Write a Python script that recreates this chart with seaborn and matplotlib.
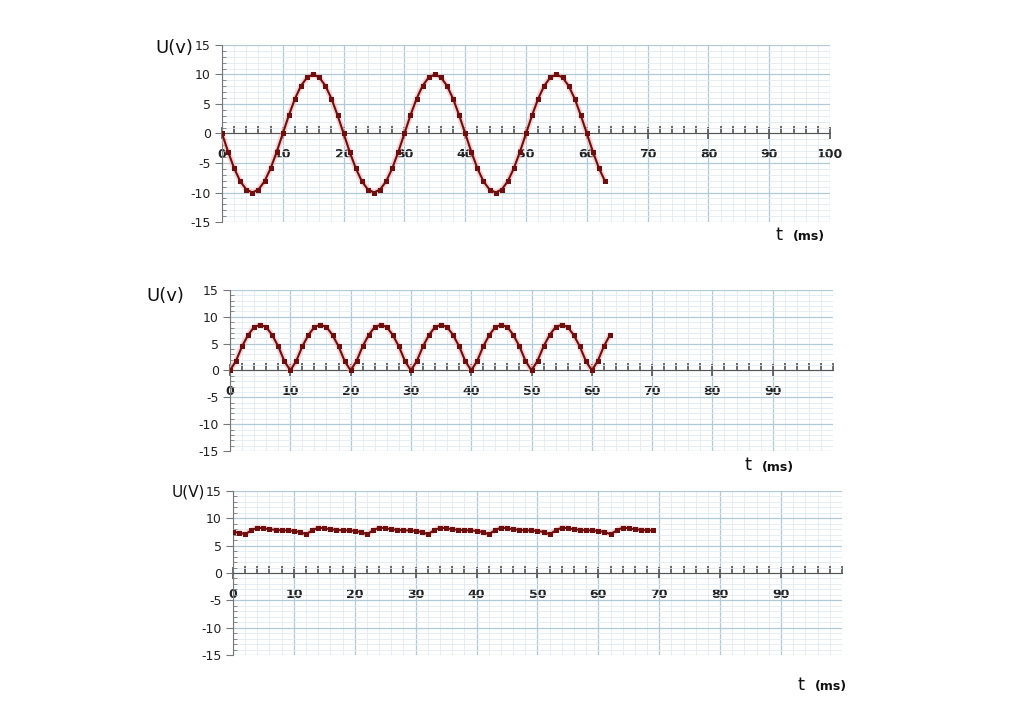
import matplotlib
matplotlib.use("Agg")
import matplotlib.pyplot as plt
from matplotlib.ticker import MultipleLocator
import seaborn as sns
import pandas as pd

# time axis, one sample per ms
t_sine = list(range(0, 64))
t_rect = list(range(0, 64))
t_filt = list(range(0, 70))

# panel 1: alternating voltage
u_sine = [0, -3.1, -5.9, -8.1, -9.5, -10, -9.5, -8.1, -5.9, -3.1,
          0, 3.1, 5.9, 8.1, 9.5, 10, 9.5, 8.1, 5.9, 3.1,
          0, -3.1, -5.9, -8.1, -9.5, -10, -9.5, -8.1, -5.9, -3.1,
          0, 3.1, 5.9, 8.1, 9.5, 10, 9.5, 8.1, 5.9, 3.1,
          0, -3.1, -5.9, -8.1, -9.5, -10, -9.5, -8.1, -5.9, -3.1,
          0, 3.1, 5.9, 8.1, 9.5, 10, 9.5, 8.1, 5.9, 3.1,
          0, -3.1, -5.9, -8.1]

# panel 2: full-wave rectified
u_rect = [0, 1.8, 4.5, 6.6, 8.1, 8.5, 8.1, 6.6, 4.5, 1.8,
          0, 1.8, 4.5, 6.6, 8.1, 8.5, 8.1, 6.6, 4.5, 1.8,
          0, 1.8, 4.5, 6.6, 8.1, 8.5, 8.1, 6.6, 4.5, 1.8,
          0, 1.8, 4.5, 6.6, 8.1, 8.5, 8.1, 6.6, 4.5, 1.8,
          0, 1.8, 4.5, 6.6, 8.1, 8.5, 8.1, 6.6, 4.5, 1.8,
          0, 1.8, 4.5, 6.6, 8.1, 8.5, 8.1, 6.6, 4.5, 1.8,
          0, 1.8, 4.5, 6.6]

# panel 3: filtered (ripple)
u_filt = [7.5, 7.4, 7.1, 7.8, 8.3, 8.2, 8.0, 7.9, 7.8, 7.8,
          7.7, 7.5, 7.1, 7.8, 8.3, 8.2, 8.0, 7.9, 7.8, 7.8,
          7.7, 7.5, 7.1, 7.8, 8.3, 8.2, 8.0, 7.9, 7.8, 7.8,
          7.7, 7.5, 7.1, 7.8, 8.3, 8.2, 8.0, 7.9, 7.8, 7.8,
          7.7, 7.5, 7.1, 7.8, 8.3, 8.2, 8.0, 7.9, 7.8, 7.8,
          7.7, 7.5, 7.1, 7.8, 8.3, 8.2, 8.0, 7.9, 7.8, 7.8,
          7.7, 7.5, 7.1, 7.8, 8.3, 8.2, 8.0, 7.9, 7.8, 7.8]

x_labels_1 = [0, 10, 20, 30, 40, 50, 60, 70, 80, 90, 100]
x_labels_2 = [0, 10, 20, 30, 40, 50, 60, 70, 80, 90]
y_labels = [-15, -10, -5, 0, 5, 10, 15]

sns.set_style("white")
plt.rcParams['font.family'] = ['DejaVu Sans']

fig = plt.figure(figsize=(10.24, 7.05), dpi=100)

LINE = "#6e0f0f"
GLOW = "#f4b4b4"
MAJOR = "#b0cad8"
MINOR = "#e2ebf1"


def draw_panel(rect, t, u, xticks, ulab, ulab_pos, tlab_pos, ulab_size=13):
    ax = fig.add_axes(rect)
    df = pd.DataFrame({"t": t, "u": u})
    # soft halo under the curve
    sns.lineplot(data=df, x="t", y="u", ax=ax, color=GLOW, lw=4, alpha=0.6,
                 zorder=3)
    sns.lineplot(data=df, x="t", y="u", ax=ax, color=LINE, lw=1.5,
                 marker="s", markersize=3.6, markeredgewidth=0, zorder=4)
    ax.set_xlim(0, 100)
    ax.set_ylim(-15, 15)
    ax.set_xlabel("")
    ax.set_ylabel("")

    ax.xaxis.set_major_locator(MultipleLocator(10))
    ax.xaxis.set_minor_locator(MultipleLocator(2))
    ax.yaxis.set_major_locator(MultipleLocator(5))
    ax.yaxis.set_minor_locator(MultipleLocator(1))
    ax.grid(which="major", color=MAJOR, lw=0.9, zorder=0)
    ax.grid(which="minor", color=MINOR, lw=0.6, zorder=0)
    ax.set_axisbelow(True)

    for s in ["top", "right"]:
        ax.spines[s].set_visible(False)
    ax.spines["bottom"].set_position(("data", 0))
    ax.spines["bottom"].set_color("#555555")
    ax.spines["left"].set_color("#777777")

    ax.set_xticks(xticks)
    ax.set_xticklabels([str(v) for v in xticks], fontsize=9, color="#222222",
                       fontweight="bold")
    ax.set_yticks(y_labels)
    ax.set_yticklabels([str(v) for v in y_labels], fontsize=9, color="#222222")
    ax.tick_params(axis="x", which="major", direction="inout", length=9,
                   width=1.1, color="#444444", pad=6, bottom=True)
    ax.tick_params(axis="x", which="minor", direction="in", length=5,
                   width=1.1, color="#444444", bottom=True)
    ax.tick_params(axis="y", which="major", direction="out", length=5,
                   color="#777777", pad=3, left=True)
    ax.tick_params(axis="y", which="minor", direction="in", length=3,
                   color="#777777", left=True)

    fig.text(ulab_pos[0], ulab_pos[1], ulab, fontsize=ulab_size,
             ha="left", va="center", color="#111111")
    fig.text(tlab_pos[0], tlab_pos[1], "t", fontsize=13, ha="left",
             va="center", color="#111111")
    fig.text(tlab_pos[0] + 0.017, tlab_pos[1] - 0.003, "(ms)", fontsize=9,
             fontweight="bold", ha="left", va="center", color="#111111")
    return ax


draw_panel([0.2168, 0.6851, 0.5938, 0.2511], t_sine, u_sine, x_labels_1,
           "U(v)", (0.152, 0.932), (0.757, 0.667))
draw_panel([0.2246, 0.3603, 0.5889, 0.2284], t_rect, u_rect, x_labels_2,
           "U(v)", (0.143, 0.580), (0.727, 0.340))
draw_panel([0.2275, 0.0709, 0.5947, 0.2326], t_filt, u_filt, x_labels_2,
           "U(V)", (0.168, 0.302), (0.779, 0.029), ulab_size=11)

fig.savefig("out.png", dpi=100, facecolor="white")
